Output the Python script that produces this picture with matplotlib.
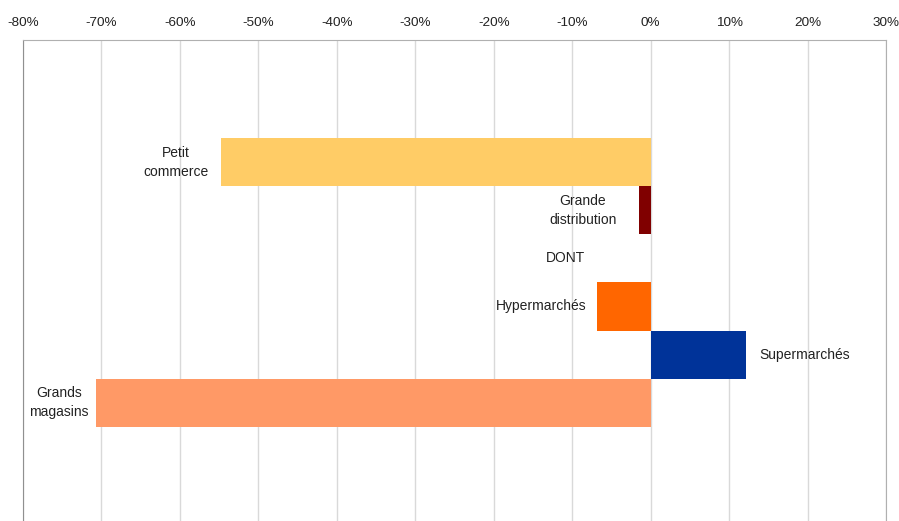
import matplotlib
matplotlib.use("Agg")
import matplotlib.pyplot as plt
from matplotlib.ticker import FuncFormatter

plt.rcParams['font.family'] = ['Liberation Sans', 'DejaVu Sans']

categories = ["Petit\ncommerce", "Grande\ndistribution", "Hypermarchés", "Supermarchés", "Grands\nmagasins"]
values = [-54.8, -1.5, -6.9, 12.2, -70.7]
slots = [2, 3, 5, 6, 7]
colors = ["#FFCC66", "#800000", "#FF6600", "#003399", "#FF9966"]
separator_label = "DONT"
separator_slot = 4
separator_x = -10.8
xticks = list(range(-80, 31, 10))
n_slots = 10

# label gaps (points) from bar end
label_gaps = [9, 16, 7, 9.5, 5]

fig = plt.figure(figsize=(8.99, 5.21), dpi=100)
ax = fig.add_axes([23/899, 0.0, (886-23)/899, (521-40)/521])

ax.barh([s + 0.5 for s in slots], values, height=1.0, color=colors, edgecolor='none', zorder=3)

ax.set_xlim(-80, 30)
ax.set_ylim(n_slots - 0.04, -0.04)

ax.set_xticks(xticks)
ax.xaxis.set_major_formatter(FuncFormatter(lambda v, p: f"{int(v)}%"))
ax.xaxis.tick_top()
ax.tick_params(axis='x', length=0, pad=8, labelsize=9.7, colors='#222222')
ax.set_yticks([])
ax.grid(axis='x', color='#d9d9d9', linewidth=1, zorder=0)

ax.spines['bottom'].set_visible(False)
ax.spines['top'].set_color('#b0b0b0')
ax.spines['left'].set_color('#909090')
ax.spines['right'].set_color('#b0b0b0')

for lab, v, s, g in zip(categories, values, slots, label_gaps):
    y = s + 0.5
    if v < 0:
        ax.annotate(lab, (v, y), xytext=(-g, 0), textcoords='offset points',
                    ha='right', va='center', multialignment='center', fontsize=10,
                    linespacing=1.45, color='#222222')
    else:
        ax.annotate(lab, (v, y), xytext=(g, 0), textcoords='offset points',
                    ha='left', va='center', multialignment='center', fontsize=10,
                    linespacing=1.45, color='#222222')

ax.text(separator_x, separator_slot + 0.5, separator_label, ha='center', va='center',
        fontsize=10, color='#222222')

fig.savefig("out.png", dpi=100)
